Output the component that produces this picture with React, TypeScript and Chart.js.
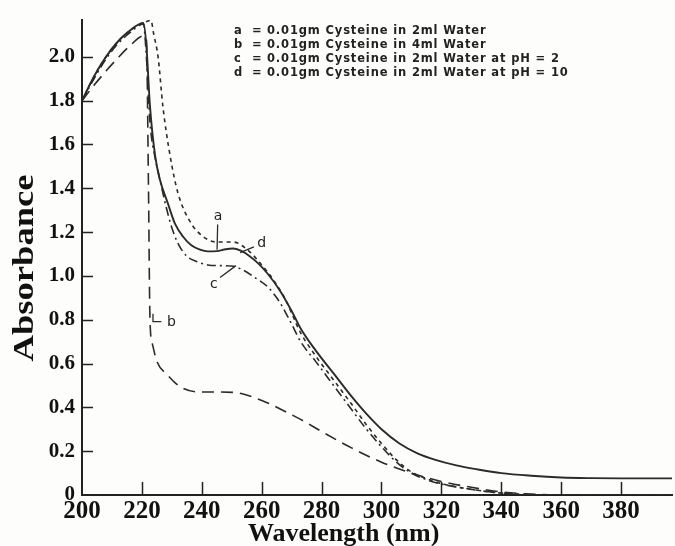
import React, { useEffect, useRef } from 'react';
import { Chart, registerables } from 'chart.js';

Chart.register(...registerables);

// ---- data (wavelength in nm, absorbance) ----
const wavelengthA = [200, 204, 208, 212, 216, 220.5, 221.5, 222.7, 224.4, 226, 228.7, 231, 233.7, 236.5, 239.4, 242, 245, 248, 250.4, 253, 256, 259, 262, 266, 270, 273, 278, 284, 290, 295, 300, 306, 312, 318, 325, 332, 340, 350, 360, 370, 380, 397];
const absorbanceA = [1.8, 1.91, 2.0, 2.07, 2.12, 2.155, 2.05, 1.775, 1.55, 1.44, 1.33, 1.24, 1.18, 1.14, 1.12, 1.112, 1.113, 1.122, 1.125, 1.115, 1.09, 1.055, 1.01, 0.935, 0.84, 0.76, 0.66, 0.555, 0.45, 0.37, 0.3, 0.235, 0.19, 0.16, 0.135, 0.117, 0.1, 0.088, 0.08, 0.077, 0.076, 0.076];

const wavelengthB = [200, 204, 208, 212, 216, 220.4, 221.5, 222.2, 222.7, 223.5, 225, 228.4, 232.7, 239.4, 246, 251, 256, 262, 268, 273, 280, 290, 300, 310, 320, 330, 340, 350, 360, 397];
const absorbanceB = [1.8, 1.87, 1.935, 1.995, 2.05, 2.095, 2.08, 1.4, 0.8, 0.69, 0.61, 0.55, 0.495, 0.47, 0.47, 0.468, 0.452, 0.42, 0.38, 0.345, 0.29, 0.215, 0.15, 0.1, 0.062, 0.035, 0.014, 0.004, 0, 0];

const wavelengthC = [200, 204, 208, 212, 216, 220.5, 221.5, 222.7, 224.4, 226, 228, 230, 232, 235, 238.4, 242, 246, 250, 254, 258, 262, 266, 270, 273, 278, 284, 290, 295, 300, 305, 310, 315, 320, 328, 337, 345, 355, 397];
const absorbanceC = [1.8, 1.9, 1.99, 2.06, 2.11, 2.15, 2.0, 1.7, 1.54, 1.44, 1.32, 1.22, 1.15, 1.09, 1.065, 1.05, 1.047, 1.045, 1.025, 0.99, 0.95, 0.88, 0.78, 0.7, 0.61, 0.5, 0.39, 0.3, 0.22, 0.15, 0.1, 0.07, 0.05, 0.03, 0.013, 0.004, 0, 0];

const wavelengthD = [200, 204, 208, 212, 216, 220.5, 223, 224, 225.4, 227, 229.4, 232, 236, 240.4, 245, 250.4, 256, 260, 264, 268, 273, 278, 284, 290, 295, 300, 305, 310, 315, 320, 328, 337, 345, 355, 397];
const absorbanceD = [1.8, 1.91, 2.0, 2.07, 2.12, 2.155, 2.166, 2.1, 2.0, 1.775, 1.55, 1.38, 1.25, 1.18, 1.155, 1.155, 1.11, 1.05, 0.98, 0.89, 0.74, 0.635, 0.525, 0.415, 0.32, 0.235, 0.16, 0.105, 0.075, 0.052, 0.03, 0.013, 0.004, 0, 0];

const legendKeys = ['a', 'b', 'c', 'd'];
const legendTexts = [
  '0.01gm Cysteine in 2ml Water',
  '0.01gm Cysteine in 4ml Water',
  '0.01gm Cysteine in 2ml Water at pH = 2',
  '0.01gm Cysteine in 2ml Water at pH = 10',
];

const xTitle = 'Wavelength (nm)';
const yTitle = 'Absorbance';

const INK = '#222222';
const LINE = '#2b2b2b';

const toPoints = (xs: number[], ys: number[]) => xs.map((x, i) => ({ x, y: ys[i] }));

const backgroundPlugin = {
  id: 'bg',
  beforeDraw(chart: any) {
    const { ctx, width, height } = chart;
    ctx.save();
    ctx.fillStyle = '#fdfdfb';
    ctx.fillRect(0, 0, width, height);
    ctx.restore();
  },
};

const innerTicksPlugin = {
  id: 'innerTicks',
  afterDraw(chart: any) {
    const { ctx, chartArea } = chart;
    const xs = chart.scales.x;
    const ys = chart.scales.y;
    ctx.save();
    ctx.strokeStyle = INK;
    ctx.lineWidth = 1.5;
    ctx.beginPath();
    xs.ticks.forEach((t: any) => {
      if (t.value <= xs.min) return;
      const px = Math.round(xs.getPixelForValue(t.value)) + 0.5;
      ctx.moveTo(px, chartArea.bottom);
      ctx.lineTo(px, chartArea.bottom - 13);
    });
    ys.ticks.forEach((t: any) => {
      if (t.value <= 0) return;
      const py = Math.round(ys.getPixelForValue(t.value)) + 0.5;
      ctx.moveTo(chartArea.left, py);
      ctx.lineTo(chartArea.left + 11, py);
    });
    ctx.stroke();
    ctx.restore();
  },
};

const annotationPlugin = {
  id: 'annotations',
  afterDraw(chart: any) {
    const { ctx } = chart;
    const xs = chart.scales.x;
    const ys = chart.scales.y;
    const P = (x: number, y: number) => [xs.getPixelForValue(x), ys.getPixelForValue(y)];
    ctx.save();
    ctx.strokeStyle = LINE;
    ctx.fillStyle = INK;
    ctx.lineWidth = 1.3;
    const leader = (pts: number[][]) => {
      ctx.beginPath();
      pts.forEach((p, i) => {
        const [px, py] = P(p[0], p[1]);
        if (i === 0) ctx.moveTo(px, py);
        else ctx.lineTo(px, py);
      });
      ctx.stroke();
    };
    leader([[245.3, 1.235], [245.1, 1.119]]);
    leader([[257.4, 1.133], [252.8, 1.106]]);
    leader([[246.1, 0.993], [251.4, 1.047]]);
    leader([[223.7, 0.827], [223.7, 0.791], [226.5, 0.791]]);
    ctx.font = '14px "DejaVu Sans"';
    ctx.textAlign = 'center';
    ctx.textBaseline = 'middle';
    const label = (t: string, x: number, y: number) => {
      const [px, py] = P(x, y);
      ctx.fillText(t, px, py);
    };
    label('a', 245.4, 1.272);
    label('d', 260.0, 1.148);
    label('c', 244.0, 0.962);
    label('b', 229.9, 0.786);

    // legend text block
    ctx.font = 'bold 11.5px "DejaVu Sans"';
    ctx.textAlign = 'left';
    (ctx as any).letterSpacing = '0.85px';
    legendKeys.forEach((k, i) => {
      const y = 31 + i * 14;
      ctx.fillText(k, 234, y);
      ctx.fillText('=', 252, y);
      ctx.fillText(legendTexts[i], 267, y);
    });
    (ctx as any).letterSpacing = '0px';

    // axis titles
    ctx.fillStyle = '#111';
    ctx.font = 'bold 26px "Liberation Serif"';
    ctx.textAlign = 'left';
    ctx.textBaseline = 'alphabetic';
    ctx.fillText(xTitle, 248, 541);

    ctx.translate(33, 268);
    ctx.rotate(-Math.PI / 2);
    ctx.scale(1.22, 1);
    ctx.font = 'bold 30px "Liberation Serif"';
    ctx.textAlign = 'center';
    ctx.fillText(yTitle, 0, 0);
    ctx.restore();
  },
};

export default function App() {
  const ref = useRef<HTMLCanvasElement | null>(null);
  useEffect(() => {
    if (!ref.current) return;
    const common = {
      borderColor: LINE,
      pointRadius: 0,
      fill: false,
      cubicInterpolationMode: 'monotone' as const,
    };
    const chart = new Chart(ref.current, {
      type: 'line',
      data: {
        datasets: [
          { label: 'a', data: toPoints(wavelengthA, absorbanceA), borderWidth: 1.9, ...common },
          { label: 'b', data: toPoints(wavelengthB, absorbanceB), borderWidth: 1.6, borderDash: [12, 7], ...common },
          { label: 'c', data: toPoints(wavelengthC, absorbanceC), borderWidth: 1.6, borderDash: [9, 4, 2, 4], ...common },
          { label: 'd', data: toPoints(wavelengthD, absorbanceD), borderWidth: 1.6, borderDash: [4, 4], ...common },
        ],
      },
      options: {
        responsive: false,
        animation: false,
        layout: { padding: { top: 12, right: 3, left: 0, bottom: 0 } },
        plugins: { legend: { display: false }, tooltip: { enabled: false }, title: { display: false } },
        scales: {
          x: {
            type: 'linear',
            min: 200,
            max: 397,
            grid: { display: false, drawTicks: false },
            border: { display: true, color: INK, width: 2 },
            ticks: {
              stepSize: 20,
              includeBounds: false,
              autoSkip: false,
              maxRotation: 0,
              padding: 2,
              color: '#111',
              font: { family: '"Liberation Serif"', weight: 'bold', size: 25 },
              callback: (v: any) => String(v),
            },
            afterFit: (s: any) => { s.height = 51; },
          },
          y: {
            type: 'linear',
            min: 0,
            max: 2.17,
            grid: { display: false, drawTicks: false },
            border: { display: true, color: INK, width: 2 },
            ticks: {
              stepSize: 0.2,
              includeBounds: false,
              padding: 7,
              color: '#111',
              font: { family: '"Liberation Serif"', weight: 'bold', size: 21 },
              callback: (v: any) => (Math.abs(v) < 1e-9 ? '0' : Number(v).toFixed(1)),
            },
            afterFit: (s: any) => { s.width = 82; },
          },
        },
      } as any,
      plugins: [backgroundPlugin, innerTicksPlugin, annotationPlugin],
    });
    return () => chart.destroy();
  }, []);
  return (
    <div style={{ position: 'absolute', left: 0, top: 0, width: 675, height: 546 }}>
      <canvas ref={ref} width={675} height={546} style={{ display: 'block' }} />
    </div>
  );
}
